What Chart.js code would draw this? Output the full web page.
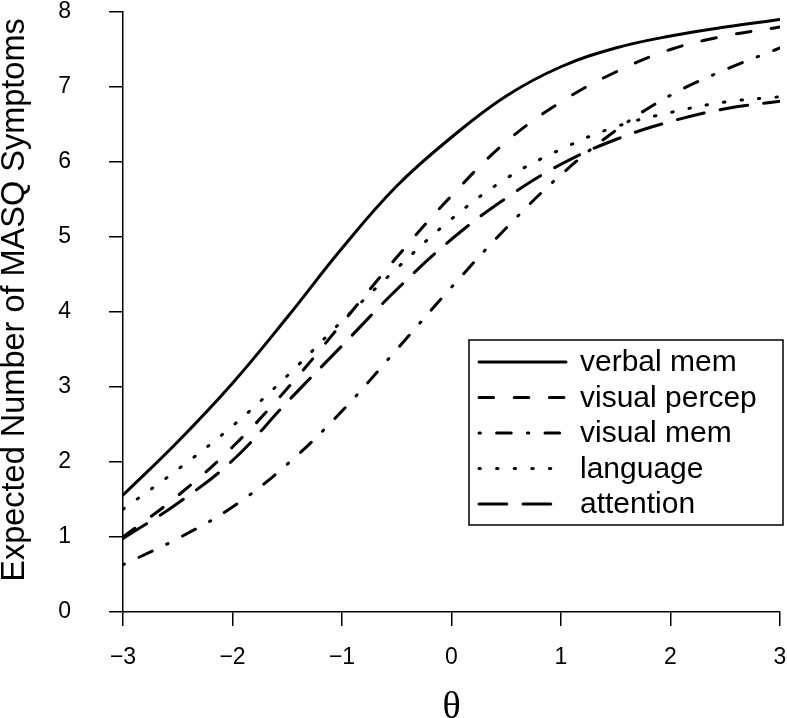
<!DOCTYPE html>
<html>
<head>
<meta charset="utf-8">
<script src="https://cdn.jsdelivr.net/npm/chart.js@4"></script>
<style>
  html, body { margin: 0; padding: 0; background: #fff; }
  #wrap { width: 787px; height: 718px; }
</style>
</head>
<body>
<div id="wrap"><canvas id="c" width="787" height="718"></canvas></div>
<script>
// ---- data ----
const theta        = [-3, -2.5, -2, -1.5, -1, -0.5, 0, 0.5, 1, 1.5, 2, 2.5, 3];
const verbalMem    = [1.56, 2.27, 3.05, 3.93, 4.85, 5.68, 6.33, 6.88, 7.27, 7.52, 7.68, 7.80, 7.90];
const visualPercep = [1.00, 1.55, 2.20, 2.98, 3.85, 4.73, 5.55, 6.27, 6.80, 7.20, 7.50, 7.68, 7.80];
const visualMem    = [0.63, 0.98, 1.40, 1.97, 2.68, 3.50, 4.33, 5.12, 5.83, 6.42, 6.89, 7.23, 7.52];
const language     = [1.37, 1.90, 2.48, 3.15, 3.88, 4.58, 5.24, 5.78, 6.17, 6.47, 6.66, 6.80, 6.87];
const attention    = [0.98, 1.45, 2.02, 2.80, 3.55, 4.30, 4.97, 5.52, 5.97, 6.30, 6.54, 6.71, 6.81];
const seriesLabels = ['verbal mem', 'visual percep', 'visual mem', 'language', 'attention'];
const xTickValues  = [-3, -2, -1, 0, 1, 2, 3];
const xTickLabels  = ['\u22123', '\u22122', '\u22121', '0', '1', '2', '3'];
const yTickLabels  = ['0', '1', '2', '3', '4', '5', '6', '7', '8'];
const xTitle = '\u03B8';
const yTitle = 'Expected Number of MASQ Symptoms';

// ---- styles ----
const dashes = [
  [],                       // solid
  [14.6, 20.6],             // dashed
  [1.4, 16.2, 14.6, 16.2],  // dot-dash
  [1.4, 16.2],              // dotted
  [27.8, 16.2]              // long dash
];
const seriesValues = [verbalMem, visualPercep, visualMem, language, attention];

const datasets = seriesLabels.map((lab, k) => ({
  label: lab,
  data: theta.map((t, i) => ({ x: t, y: seriesValues[k][i] })),
  borderColor: '#000',
  borderWidth: 3,
  borderDash: dashes[k],
  borderCapStyle: 'round',
  borderJoinStyle: 'round',
  pointRadius: 0,
  fill: false,
  tension: 0.4
}));

const boxLegend = {
  id: 'boxLegend',
  afterDraw(chart, args, opts) {
    const ctx = chart.ctx;
    ctx.save();
    ctx.strokeStyle = '#000';
    ctx.lineWidth = 1.5;
    ctx.setLineDash([]);
    ctx.strokeRect(opts.x, opts.y, opts.w, opts.h);
    chart.data.datasets.forEach((ds, i) => {
      const yy = opts.y + opts.firstRow + i * opts.rowGap;
      ctx.beginPath();
      ctx.setLineDash(ds.borderDash);
      ctx.lineCap = 'round';
      ctx.lineWidth = ds.borderWidth;
      ctx.strokeStyle = ds.borderColor;
      ctx.moveTo(opts.x + opts.lineStart, yy);
      ctx.lineTo(opts.x + opts.lineEnd, yy);
      ctx.stroke();
      ctx.setLineDash([]);
      ctx.fillStyle = '#000';
      ctx.font = '30px "Liberation Sans", Arial, sans-serif';
      ctx.textBaseline = 'middle';
      ctx.textAlign = 'left';
      ctx.fillText(ds.label, opts.x + opts.textStart, yy + 1);
    });
    ctx.restore();
  }
};

const yTitlePlugin = {
  id: 'yTitlePlugin',
  afterDraw(chart, args, opts) {
    const ctx = chart.ctx;
    ctx.save();
    ctx.translate(opts.x, opts.y);
    ctx.rotate(-Math.PI / 2);
    ctx.fillStyle = '#000';
    ctx.font = '32.5px "Liberation Sans", Arial, sans-serif';
    ctx.textAlign = 'center';
    ctx.textBaseline = 'alphabetic';
    ctx.fillText(opts.text, 0, 0);
    ctx.restore();
  }
};

new Chart(document.getElementById('c'), {
  type: 'line',
  data: { datasets },
  plugins: [boxLegend, yTitlePlugin],
  options: {
    responsive: false,
    animation: false,
    devicePixelRatio: 1,
    layout: { padding: { top: 12, right: 7, left: 0, bottom: 0 } },
    plugins: {
      legend: { display: false },
      tooltip: { enabled: false },
      boxLegend: { x: 469, y: 340, w: 314, h: 185, firstRow: 22, rowGap: 35.5, lineStart: 10, lineEnd: 97, textStart: 111 },
      yTitlePlugin: { x: 24, y: 300, text: yTitle }
    },
    scales: {
      x: {
        type: 'linear',
        min: -3, max: 3,
        afterFit: s => { s.height = 106; s.paddingLeft = 0; s.paddingRight = 0; },
        afterBuildTicks: s => { s.ticks = xTickValues.map(v => ({ value: v })); },
        ticks: {
          color: '#000',
          padding: 20,
          maxRotation: 0,
          autoSkip: false,
          font: { family: '"Liberation Sans", Arial, sans-serif', size: 23, lineHeight: 1 },
          callback: (v) => xTickLabels[xTickValues.indexOf(v)]
        },
        grid: { drawOnChartArea: false, drawTicks: true, tickLength: 14, color: '#000', lineWidth: 1.5 },
        border: { display: true, color: '#000', width: 1.5 },
        title: {
          display: true, text: xTitle, color: '#000', padding: 0,
          font: { family: '"Liberation Serif", "DejaVu Serif", serif', size: 38, lineHeight: 0.55 }
        }
      },
      y: {
        min: 0, max: 8,
        afterFit: s => { s.width = 123; s.paddingTop = 0; s.paddingBottom = 0; },
        ticks: {
          stepSize: 1,
          color: '#000',
          padding: 38,
          font: { family: '"Liberation Sans", Arial, sans-serif', size: 23, lineHeight: 1 },
          callback: (v) => yTickLabels[v]
        },
        grid: { drawOnChartArea: false, drawTicks: true, tickLength: 14, color: '#000', lineWidth: 1.5 },
        border: { display: true, color: '#000', width: 1.5 },
        title: { display: false, text: yTitle }
      }
    }
  }
});
</script>
</body>
</html>
